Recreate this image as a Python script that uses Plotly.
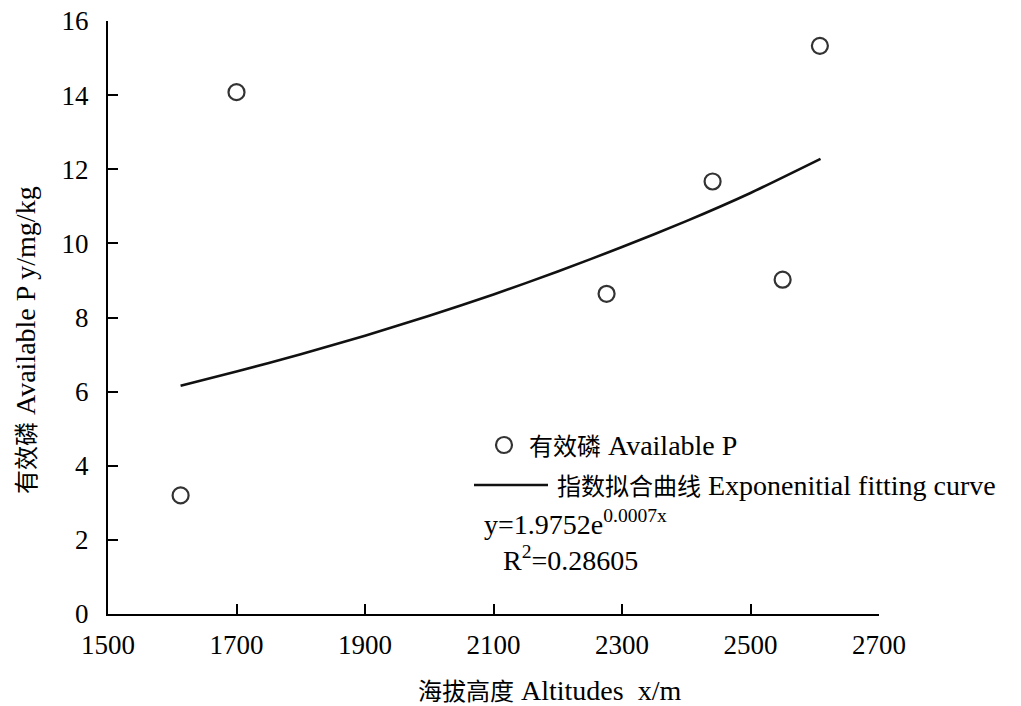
import plotly.graph_objects as go

# Data
altitude = [1613, 1700, 2276, 2441, 2550, 2608]
available_p = [3.20, 14.08, 8.64, 11.67, 9.02, 15.33]

curve_x = [1613, 1700, 1800, 1900, 2000, 2100, 2200, 2300, 2400, 2500, 2609]
curve_y = [6.16, 6.54, 7.01, 7.51, 8.05, 8.62, 9.24, 9.90, 10.60, 11.36, 12.28]

x_ticks = [1500, 1700, 1900, 2100, 2300, 2500, 2700]
y_ticks = [0, 2, 4, 6, 8, 10, 12, 14, 16]

FONT = "'Liberation Serif', 'Noto Sans CJK SC', serif"
CJK_SIZE = 24
LAT_SIZE = 28

# page body adds an 8px offset; reference pixel coordinates below
OFF = 8
W, H = 1021 - OFF, 706 - OFF
L, T = 108, 21          # plot area left/top in reference pixels
PR, PB = 879, 614       # plot area right/bottom in reference pixels
PW, PH = PR - L, PB - T


def px(xr):
    return (xr - L) / PW


def py(yr):
    return (PB - yr) / PH


def cjk(s):
    return f"<span style='font-size:{CJK_SIZE}px'>{s}</span>"


fig = go.Figure()
fig.add_trace(go.Scatter(
    x=curve_x, y=curve_y, mode="lines",
    line=dict(color="#111111", width=2.6, shape="spline", smoothing=0.6),
    showlegend=False, hoverinfo="skip"))
fig.add_trace(go.Scatter(
    x=altitude, y=available_p, mode="markers",
    marker=dict(symbol="circle-open", size=16, color="#333333",
                line=dict(color="#333333", width=2.2)),
    showlegend=False))

axis_common = dict(
    showline=True, linecolor="black", linewidth=2,
    ticks="inside", ticklen=10, tickwidth=2, tickcolor="black",
    showgrid=False, zeroline=False, mirror=False,
    ticklabeloverflow="allow", automargin=False,
    tickfont=dict(family=FONT, size=27, color="black"),
)
fig.update_xaxes(range=[1500, 2700], tickvals=x_ticks, ticklabelstandoff=6,
                 **axis_common)
fig.update_yaxes(range=[0, 16], tickvals=y_ticks, ticklabelstandoff=12,
                 **axis_common)

shapes = [
    dict(type="circle", xref="paper", yref="paper",
         x0=px(504 - 8), x1=px(504 + 8), y0=py(445 + 8), y1=py(445 - 8),
         line=dict(color="#333333", width=2.2)),
    dict(type="line", xref="paper", yref="paper",
         x0=px(474), x1=px(548), y0=py(485), y1=py(485),
         line=dict(color="#111111", width=2.6)),
]

tf = dict(family=FONT, size=LAT_SIZE, color="black")
annotations = [
    dict(text=cjk("有效磷") + " Available P", x=px(527), y=py(445),
         xref="paper", yref="paper", xanchor="left", yanchor="middle",
         showarrow=False, font=tf),
    dict(text=cjk("指数拟合曲线") + " Exponenitial fitting curve", x=px(555),
         y=py(485), xref="paper", yref="paper", xanchor="left",
         yanchor="middle", showarrow=False, font=tf),
    dict(text="y=1.9752e<sup>0.0007x</sup>", x=px(482), y=py(522),
         xref="paper", yref="paper", xanchor="left", yanchor="middle",
         showarrow=False, font=tf),
    dict(text="R<sup>2</sup>=0.28605", x=px(501), y=py(558), xref="paper",
         yref="paper", xanchor="left", yanchor="middle", showarrow=False,
         font=tf),
    dict(text=cjk("海拔高度") + " Altitudes  x/m", x=px(549), y=py(690),
         xref="paper", yref="paper", xanchor="center", yanchor="middle",
         showarrow=False, font=tf),
    dict(text=cjk("有效磷") + " Available P y/mg/kg", x=px(25), y=py(340),
         xref="paper", yref="paper", xanchor="center", yanchor="middle",
         textangle=-90, showarrow=False, font=tf),
]

fig.update_layout(
    width=W, height=H,
    margin=dict(l=L - OFF, r=1021 - PR, t=T - OFF, b=706 - PB,
                autoexpand=False),
    paper_bgcolor="white", plot_bgcolor="white",
    shapes=shapes, annotations=annotations,
    showlegend=False,
    font=dict(family=FONT, color="black"),
)

fig.write_html("out.html")
